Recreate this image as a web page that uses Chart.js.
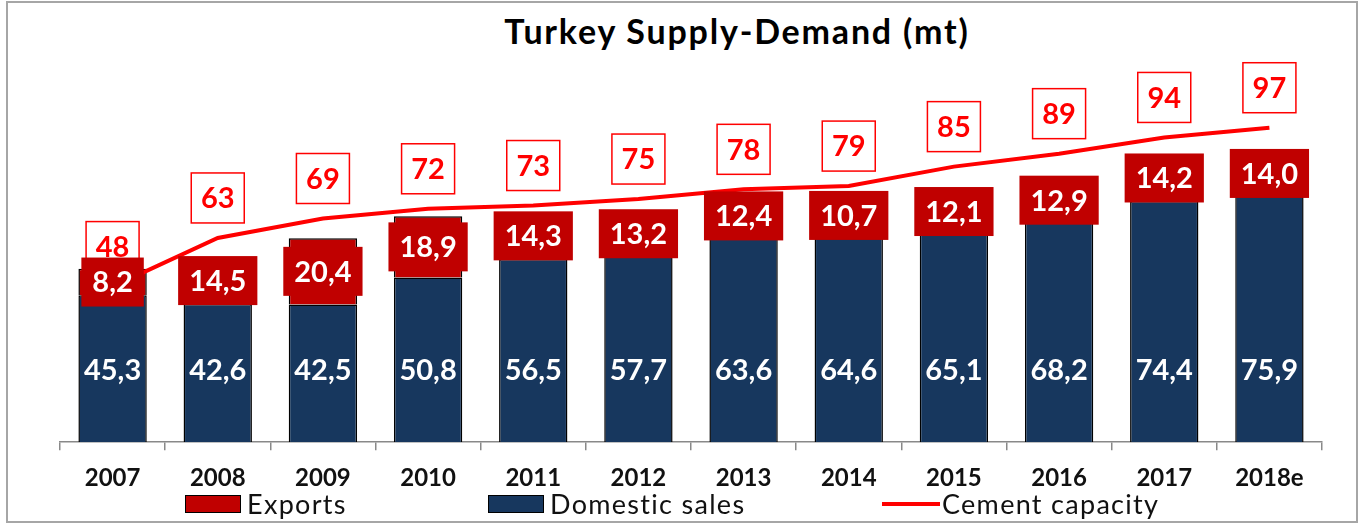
<!DOCTYPE html>
<html>
<head>
<meta charset="utf-8">
<title>Turkey Supply-Demand</title>
<script src="https://cdn.jsdelivr.net/npm/chart.js@4"></script>
<style>
    html, body { margin: 0; padding: 0; background: #fff; }
    #frame {
        position: absolute; left: 6px; top: 1px; width: 1352px; height: 522px;
        box-sizing: border-box; border: 2px solid #a6a6a6;
    }
    #wrap { position: absolute; left: 0; top: 0; width: 1348px; height: 518px; }
    .title {
        position: absolute; left: 737px; top: 14px; transform: translateX(-50%);
        font: bold 34px Lato; letter-spacing: 1.8px; line-height: 1; white-space: nowrap; color: #000;
    }
    .leg {
        position: absolute; top: 490px; font: 27px Lato; letter-spacing: 1.3px; line-height: 1;
        white-space: nowrap; color: #111; display: flex; align-items: center;
    }
    .sw { width: 54px; height: 16px; border: 1px solid #000; margin-right: 6px; }
    .ln { width: 58px; height: 4px; background: #ff0000; margin-right: 2px; }
</style>
</head>
<body>
<div class="title">Turkey Supply-Demand (mt)</div>
<div id="frame"><div id="wrap"><canvas id="ComboChart"></canvas></div></div>
<div class="leg" style="left:185px"><span class="sw" style="background:#c00000"></span>Exports</div>
<div class="leg" style="left:488px"><span class="sw" style="background:#17375e"></span>Domestic sales</div>
<div class="leg" style="left:882px"><span class="ln"></span>Cement capacity</div>
<script>
(function () {
    "use strict";

    // Data
    const years = ["2007", "2008", "2009", "2010", "2011", "2012", "2013", "2014", "2015", "2016", "2017", "2018e"];
    const domestic = [45.3, 42.6, 42.5, 50.8, 56.5, 57.7, 63.6, 64.6, 65.1, 68.2, 74.4, 75.9];
    const exportsData = [8.2, 14.5, 20.4, 18.9, 14.3, 13.2, 12.4, 10.7, 12.1, 12.9, 14.2, 14.0];
    const capacity = [48, 63, 69, 72, 73, 75, 78, 79, 85, 89, 94, 97];

    // Colors
    const navy = "#17375e";
    const darkRed = "#c00000";
    const red = "#ff0000";

    const fmt = function (v) {
        return v.toFixed(1).replace(".", ",");
    };

    // data labels: domestic (plain), capacity (boxed), exports (filled box)
    const labelPlugin = {
        id: "barLabels",
        afterDatasetsDraw: function (chart) {
            const ctx = chart.ctx;
            const base = chart.scales.y.getPixelForValue(0);
            ctx.save();
            ctx.textAlign = "center";
            ctx.textBaseline = "middle";
            ctx.font = "bold 29px Lato";

            chart.getDatasetMeta(0).data.forEach(function (bar, i) {
                ctx.fillStyle = "#fff";
                ctx.fillText(fmt(domestic[i]), bar.x, base - 72);
            });

            chart.getDatasetMeta(2).data.forEach(function (pt, i) {
                const cx = pt.x, cy = pt.y - 40;
                const w = 53, h = 50;
                ctx.fillStyle = "#fff";
                ctx.fillRect(cx - w / 2, cy - h / 2, w, h);
                ctx.strokeStyle = red;
                ctx.lineWidth = 1.5;
                ctx.strokeRect(cx - w / 2, cy - h / 2, w, h);
                ctx.fillStyle = red;
                ctx.fillText(String(capacity[i]), cx, cy + 1);
            });

            chart.getDatasetMeta(1).data.forEach(function (bar, i) {
                const txt = fmt(exportsData[i]);
                const w = ctx.measureText(txt).width + 22, h = 49;
                const cx = bar.x, cy = (bar.y + bar.base) / 2;
                ctx.fillStyle = darkRed;
                ctx.fillRect(cx - w / 2, cy - h / 2, w, h);
                ctx.fillStyle = "#fff";
                ctx.fillText(txt, cx, cy + 1);
            });
            ctx.restore();
        },
    };

    const ctc = document.getElementById("ComboChart").getContext("2d");
    new Chart(ctc, {
        type: "bar",
        data: {
            labels: years,
            datasets: [
                {
                    label: "Domestic sales",
                    data: domestic,
                    backgroundColor: navy,
                    borderColor: "#000",
                    borderWidth: 1.5,
                    stack: "s",
                    order: 1,
                    barPercentage: 0.65,
                    categoryPercentage: 1,
                },
                {
                    label: "Exports",
                    data: exportsData,
                    backgroundColor: darkRed,
                    borderColor: "#000",
                    borderWidth: 1.5,
                    stack: "s",
                    order: 1,
                    barPercentage: 0.65,
                    categoryPercentage: 1,
                },
                {
                    type: "line",
                    label: "Cement capacity",
                    data: capacity,
                    borderColor: red,
                    borderWidth: 4,
                    pointRadius: 0,
                    tension: 0,
                    fill: false,
                    stack: "c",
                    order: 0,
                },
            ],
        },
        options: {
            responsive: true,
            maintainAspectRatio: false,
            animation: false,
            layout: {
                padding: { left: 52, right: 34, top: 115, bottom: 14 },
            },
            plugins: {
                legend: { display: false },
                title: { display: false },
                tooltip: { enabled: false },
            },
            scales: {
                x: {
                    stacked: true,
                    offset: true,
                    grid: {
                        display: true,
                        offset: true,
                        drawOnChartArea: false,
                        drawTicks: true,
                        tickLength: 8,
                        color: "#898989",
                        lineWidth: 1.5,
                    },
                    border: { display: true, color: "#898989", width: 1.5 },
                    ticks: {
                        color: "#111",
                        padding: 14,
                        font: { family: "Lato", weight: "bold", size: 24 },
                    },
                },
                y: {
                    stacked: true,
                    display: false,
                    min: 0,
                    max: 100,
                },
            },
        },
        plugins: [labelPlugin],
    });
})();
</script>
</body>
</html>
